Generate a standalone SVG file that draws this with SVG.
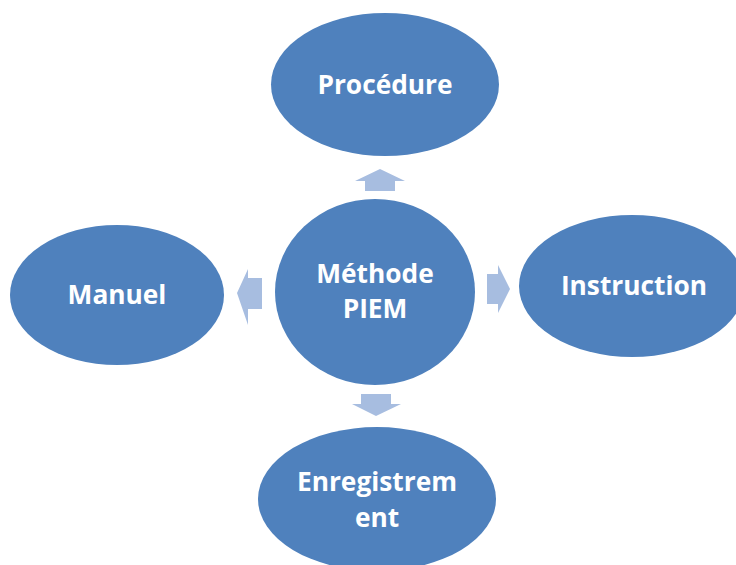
<svg xmlns="http://www.w3.org/2000/svg" width="736" height="565" viewBox="0 0 736 565">
<style>
.n{fill:#4F81BD;}
.t{fill:#FFFFFF;font-family:"Open Sans","Liberation Sans",sans-serif;font-weight:bold;font-size:26.3px;text-anchor:middle;}
.a{fill:#A7BDE0;}
</style>
<rect width="736" height="565" fill="#FFFFFF"/>
<g id="connectors">
<polygon class="a" points="355,181 380,169 405,181 395,181 395,191 365,191 365,181"/>
<polygon class="a" points="248,269 237,293 248,325 248,309 262,309 262,278 248,278"/>
<polygon class="a" points="487,274 498,274 498,265 510,289 498,313 498,304 487,304"/>
<polygon class="a" points="361,394 391,394 391,404 401,404 376,416 352,404 361,404"/>
</g>
<g id="procedure">
<ellipse class="n" cx="385" cy="84.5" rx="114" ry="71.5"/>
<text class="t" x="385" y="94">Procédure</text>
</g>
<g id="methode">
<ellipse class="n" cx="375" cy="292" rx="100" ry="93"/>
<text class="t" x="375" y="283">Méthode</text>
<text class="t" x="375" y="318">PIEM</text>
</g>
<g id="manuel">
<ellipse class="n" cx="117" cy="295" rx="107" ry="70"/>
<text class="t" x="117" y="304">Manuel</text>
</g>
<g id="instruction">
<ellipse class="n" cx="632" cy="286" rx="113" ry="71"/>
<text class="t" x="634" y="295">Instruction</text>
</g>
<g id="enregistrement">
<ellipse class="n" cx="377" cy="499" rx="119" ry="72"/>
<text class="t" x="377" y="491">Enregistrem</text>
<text class="t" x="377" y="527">ent</text>
</g>
</svg>
